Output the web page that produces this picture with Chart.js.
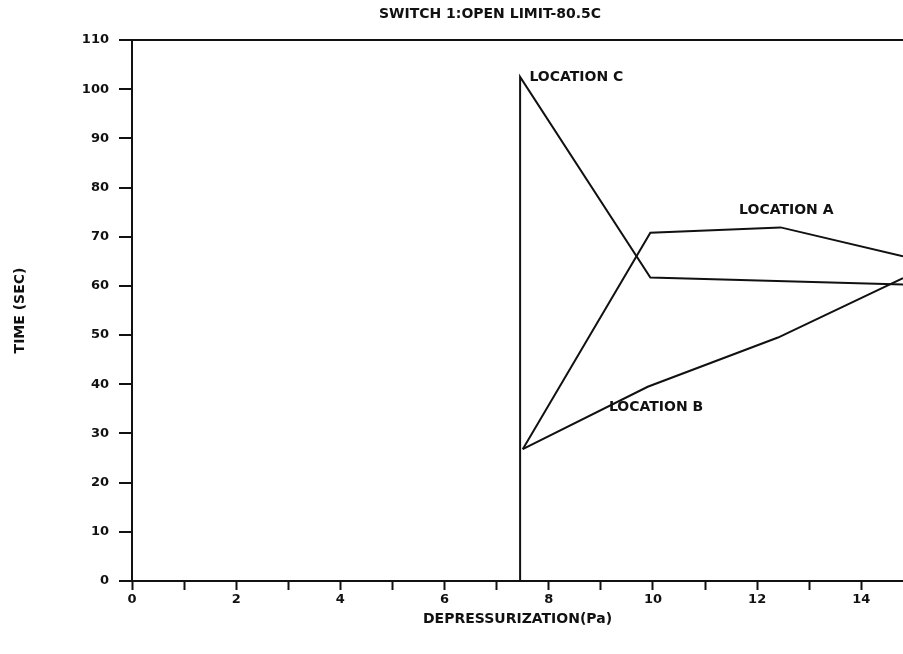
<!DOCTYPE html>
<html>
<head>
<meta charset="utf-8">
<script src="https://cdn.jsdelivr.net/npm/chart.js@4"></script>
<style>
  html, body { margin: 0; padding: 0; background: #fff; overflow: hidden; }
  #wrap { width: 903px; height: 654px; }
</style>
</head>
<body>
<div id="wrap"><canvas id="chart"></canvas></div>
<script>
// values
var titleText = "SWITCH 1:OPEN LIMIT-80.5C";
var xTitle = "DEPRESSURIZATION(Pa)";
var yTitle = "TIME (SEC)";

var locA_x = [7.5, 9.95, 12.45, 14.8];
var locA_y = [26.8, 70.8, 71.9, 66.0];
var locB_x = [7.5, 9.9, 12.4, 14.8];
var locB_y = [26.8, 39.5, 49.5, 61.6];
var locC_x = [7.45, 7.45, 9.95, 14.8];
var locC_y = [0, 102.5, 61.7, 60.3];

var labelText = ["LOCATION A", "LOCATION B", "LOCATION C"];
var labelX = [12.56, 10.06, 8.53];
var labelY = [75.4, 35.4, 102.4];

var fontFamily = "'DejaVu Sans', sans-serif";

function toPoints(xs, ys) {
    return xs.map(function (x, i) { return {x: x, y: ys[i]}; });
}

function lineSet(label, xs, ys) {
    return {
        label: label,
        data: toPoints(xs, ys),
        borderColor: '#111',
        borderWidth: 2,
        pointRadius: 0,
        tension: 0,
        fill: false
    };
}

// title and curve labels drawn as text on the canvas
var textPlugin = {
    id: 'texts',
    afterDraw: function (chart) {
        var ctx = chart.ctx;
        var xs = chart.scales.x, ys = chart.scales.y;
        ctx.save();
        ctx.fillStyle = '#111';
        ctx.textBaseline = 'middle';
        ctx.textAlign = 'center';
        ctx.font = "bold 14px " + fontFamily;
        ctx.fillText(titleText, 490, 14);
        ctx.font = "bold 14px " + fontFamily;
        for (var i = 0; i < labelText.length; i++) {
            ctx.fillText(labelText[i], xs.getPixelForValue(labelX[i]), ys.getPixelForValue(labelY[i]));
        }
        ctx.restore();
    }
};

new Chart(document.getElementById('chart'), {
    type: 'line',
    data: {
        datasets: [
            lineSet("LOCATION A", locA_x, locA_y),
            lineSet("LOCATION B", locB_x, locB_y),
            lineSet("LOCATION C", locC_x, locC_y)
        ]
    },
    options: {
        responsive: true,
        maintainAspectRatio: false,
        animation: false,
        layout: {padding: {top: 40, right: 0, bottom: 26, left: 0}},
        plugins: {
            legend: {display: false},
            tooltip: {enabled: false}
        },
        scales: {
            x: {
                type: 'linear',
                min: 0,
                max: 14.8,
                border: {display: true, color: '#111', width: 2},
                grid: {
                    drawOnChartArea: false,
                    tickLength: 9,
                    tickColor: '#111',
                    tickWidth: 2
                },
                ticks: {
                    stepSize: 1,
                    includeBounds: false,
                    maxRotation: 0,
                    autoSkip: false,
                    padding: 2,
                    color: '#111',
                    font: {size: 13, weight: 'bold', family: fontFamily},
                    callback: function (v) { return v % 2 === 0 ? String(v) : ''; }
                },
                title: {
                    display: true,
                    text: xTitle,
                    color: '#111',
                    padding: {top: 4, bottom: 0},
                    font: {size: 14, weight: 'bold', family: fontFamily}
                },
                afterFit: function (scale) { scale.height = 47; }
            },
            y: {
                min: 0,
                max: 110,
                border: {display: true, color: '#111', width: 2},
                grid: {
                    color: function (c) { return c.tick && c.tick.value === 110 ? '#111' : 'rgba(0,0,0,0)'; },
                    lineWidth: 2,
                    tickLength: 13,
                    tickColor: '#111',
                    tickWidth: 2
                },
                ticks: {
                    stepSize: 10,
                    padding: 10,
                    color: '#111',
                    font: {size: 13, weight: 'bold', family: fontFamily}
                },
                title: {
                    display: true,
                    text: yTitle,
                    color: '#111',
                    padding: {top: 12, bottom: 0},
                    font: {size: 14, weight: 'bold', family: fontFamily}
                },
                afterFit: function (scale) { scale.width = 132; }
            }
        }
    },
    plugins: [textPlugin]
});
</script>
</body>
</html>
